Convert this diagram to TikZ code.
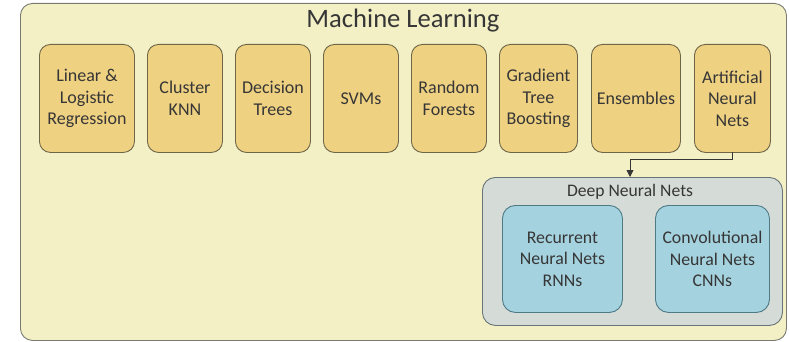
\documentclass[tikz,border=0pt]{standalone}
\usepackage{fontspec}
\setmainfont{Carlito}
\usetikzlibrary{arrows.meta}
\definecolor{outerfill}{HTML}{F3F0C6}
\definecolor{outerline}{HTML}{7A7A72}
\definecolor{yfill}{HTML}{EFD182}
\definecolor{yline}{HTML}{6F6547}
\definecolor{gfill}{HTML}{D5DBD7}
\definecolor{gline}{HTML}{687478}
\definecolor{bfill}{HTML}{A5D2DF}
\definecolor{bline}{HTML}{4E7A86}
\definecolor{txt}{HTML}{363636}
\tikzset{
  x=1pt, y=-1pt,
  mlbox/.style={draw=yline, fill=yfill, rounded corners=11pt, line width=0.9pt, align=center,
    font=\fontsize{18}{21.5}\selectfont, text=txt, inner sep=0pt},
  nnbox/.style={draw=bline, fill=bfill, rounded corners=13pt, line width=0.9pt, align=center,
    font=\fontsize{17.8}{21.5}\selectfont, text=txt, inner sep=0pt},
  lbl/.style={font=\fontsize{17.6}{21}\selectfont, text=txt, inner sep=0pt}
}
\newcommand{\ybox}[5]{%
  \node[mlbox, minimum width=#3-#2, minimum height=108pt, anchor=north west] (#1) at (#2,44) {#5};}
\begin{document}
\begin{tikzpicture}
\useasboundingbox (0,0) rectangle (789,342);
\node[draw=outerline, fill=outerfill, line width=0.9pt, rounded corners=12pt,
  minimum width=766pt, minimum height=337pt, anchor=north west, inner sep=0pt] (ml) at (20,3) {};
\node[font=\fontsize{26.6}{30}\selectfont, text=txt, inner sep=0pt] (mlt) at (403,21) {Machine Learning};
\ybox{b1}{39}{134}{}{Linear \&\\Logistic\\Regression}
\ybox{b2}{147}{222}{}{Cluster\\KNN}
\ybox{b3}{235}{310}{}{Decision\\Trees}
\ybox{b4}{323}{398}{}{SVMs}
\ybox{b5}{411}{486}{}{Random\\Forests}
\ybox{b6}{499}{577}{}{Gradient\\Tree\\Boosting}
\ybox{b7}{591}{680}{}{Ensembles}
\ybox{b8}{694}{770}{}{Artificial\\Neural\\Nets}
\node[draw=gline, fill=gfill, line width=0.9pt, rounded corners=13pt,
  minimum width=300pt, minimum height=148pt, anchor=north west, inner sep=0pt] (dnn) at (482,177) {};
\node[lbl] (dnnt) at (630,192) {Deep Neural Nets};
\node[nnbox, minimum width=120pt, minimum height=107pt, anchor=north west] (rnn) at (502,205) {Recurrent\\Neural Nets\\RNNs};
\node[nnbox, minimum width=114pt, minimum height=107pt, anchor=north west] (cnn) at (655,205) {Convolutional\\Neural Nets\\CNNs};
\coordinate (a1) at (732,152);
\coordinate (a2) at (630,177);
\draw[draw=txt, line width=0.8pt, -{Triangle[length=7pt,width=7pt]}] (a1) -- (732,159) -- (630,159) -- (a2);
\end{tikzpicture}
\end{document}
